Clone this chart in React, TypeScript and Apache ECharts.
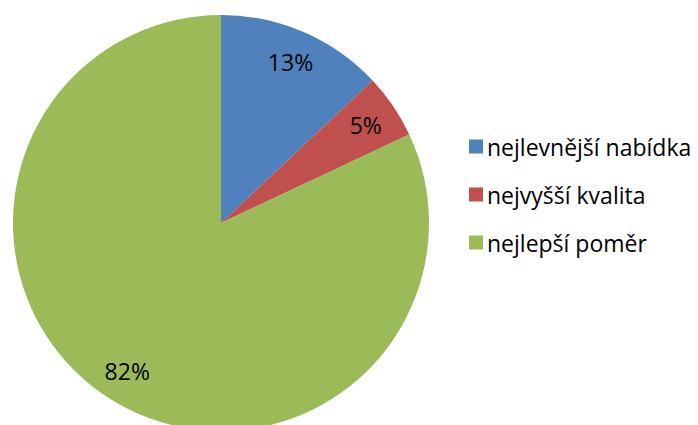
import React, { useEffect, useRef } from "react";
import * as echarts from "echarts";

const categories = ["nejlevnější nabídka", "nejvyšší kvalita", "nejlepší poměr"];
const values = [13, 5, 82];
const colors = ["#4F81BD", "#C0504D", "#9BBB59"];

export default function App() {
  const ref = useRef<HTMLDivElement>(null);
  useEffect(() => {
    if (!ref.current) return;
    const chart = echarts.init(ref.current, null, { renderer: "svg" });
    const data = categories.map((name, i) => ({
      name,
      value: values[i],
      itemStyle: { color: colors[i] },
    }));
    const labelData = categories.map((name, i) => ({
      name,
      value: values[i],
      itemStyle: { color: "rgba(0,0,0,0)" },
    }));
    chart.setOption({
      animation: false,
      backgroundColor: "#ffffff",
      legend: {
        orient: "vertical",
        left: 464,
        top: 130,
        itemWidth: 14,
        itemHeight: 14,
        itemGap: 25,
        icon: "rect",
        data: categories.map((name, i) => ({ name, itemStyle: { color: colors[i] } })),
        textStyle: { fontFamily: "Open Sans", fontSize: 23, color: "#000", padding: [0, 0, 0, -1] },
      },
      series: [
        {
          type: "pie",
          center: [221, 223],
          radius: [0, 208],
          startAngle: 90,
          clockwise: true,
          label: { show: false },
          labelLine: { show: false },
          silent: true,
          data,
        },
        {
          type: "pie",
          center: [221, 223],
          radius: [136, 208],
          startAngle: 90,
          clockwise: true,
          silent: true,
          legendHoverLink: false,
          label: {
            show: true,
            position: "inside",
            formatter: "{c}%",
            fontFamily: "Open Sans",
            fontSize: 23,
            color: "#000",
          },
          labelLine: { show: false },
          data: labelData,
        },
      ],
    });
    return () => chart.dispose();
  }, []);
  return (
    <div
      ref={ref}
      style={{ position: "fixed", left: 0, top: 0, width: 698, height: 425 }}
    />
  );
}
